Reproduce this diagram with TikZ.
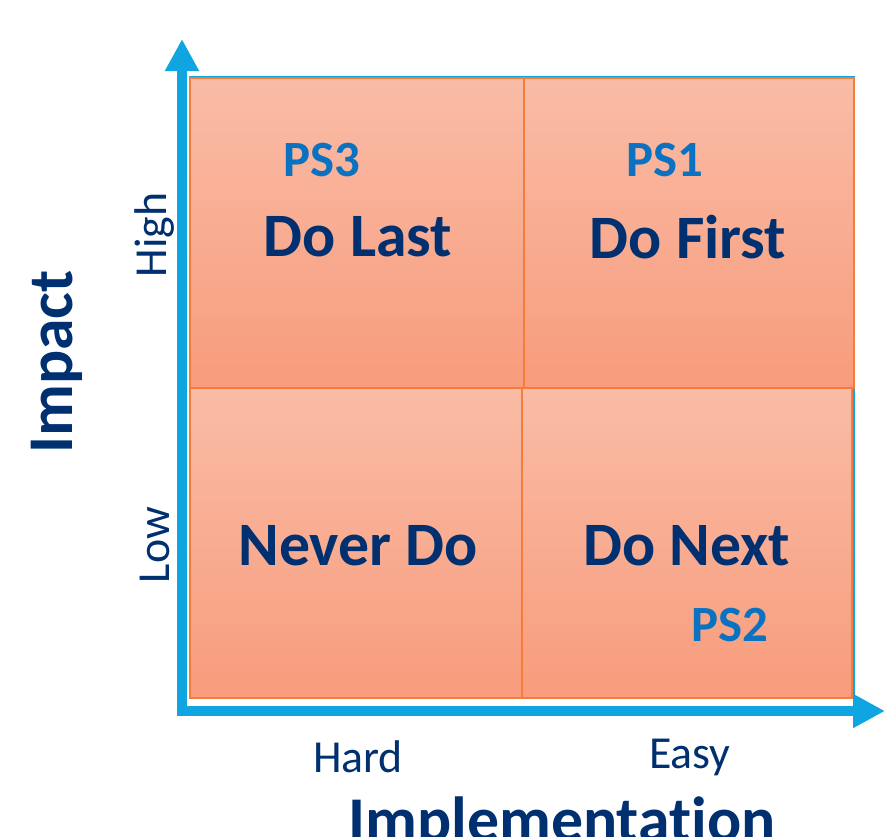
\documentclass[tikz,border=0pt]{standalone}
\usepackage{fontspec}
\setmainfont{Carlito}[Ligatures=NoCommon]
\usetikzlibrary{arrows.meta, positioning}
\definecolor{navy}{RGB}{0,48,112}
\definecolor{psblue}{RGB}{10,114,192}
\definecolor{axisblue}{RGB}{14,165,224}
\definecolor{salmontop}{RGB}{249,188,166}
\definecolor{salmonbot}{RGB}{248,156,124}
\definecolor{edgeorange}{RGB}{245,125,60}

\begin{document}
\begin{tikzpicture}[x=1bp, y=-1bp,
  quad/.style={draw=edgeorange, line width=1.5bp, top color=salmontop, bottom color=salmonbot, inner sep=0pt},
  task/.style={font=\fontsize{62}{62}\selectfont\bfseries, text=navy},
  ps/.style={font=\fontsize{51}{51}\selectfont\bfseries, text=psblue},
  tick/.style={font=\fontsize{46}{46}\selectfont, text=navy},
  axlabel/.style={font=\fontsize{64}{64}\selectfont\bfseries, text=navy},
  axis/.style={axisblue, line width=10bp, -{Triangle[length=32bp, width=32bp]}}]
  \useasboundingbox (0,0) rectangle (885,837);

  % backdrop of the grid
  \fill[axisblue] (189,76) rectangle (855,699);

  % quadrants
  \node[quad, minimum width=334bp, minimum height=310bp] (tl) at (357,233) {};
  \node[quad, minimum width=330bp, minimum height=310bp] (tr) at (689,233) {};
  \node[quad, minimum width=332bp, minimum height=310bp] (bl) at (356,543) {};
  \node[quad, minimum width=330bp, minimum height=310bp] (br) at (687,543) {};

  % axes
  \coordinate (origin_v) at (182,716);
  \coordinate (origin_h) at (177,711);
  \coordinate (ytip) at (182,39);
  \coordinate (xtip) at (885,711);
  \draw[axis] (origin_v) -- (ytip);
  \draw[axis] (origin_h) -- (xtip);

  % quadrant texts
  \node[ps] (ps3) at (322,160) {PS3};
  \node[task] (dolast) at (358,237) {Do Last};
  \node[ps] (ps1) at (665,160) {PS1};
  \node[task] (dofirst) at (688,237) {Do First};
  \node[task] (neverdo) at (358,546) {Never Do};
  \node[task] (donext) at (687,546) {Do Next};
  \node[ps] (ps2) at (730,625) {PS2};

  % axis labels
  \node[tick, rotate=90] (high) at (155,235) {High};
  \node[tick, rotate=90] (low) at (155,545) {Low};
  \node[axlabel, rotate=90] (impact) at (57,362) {Impact};
  \node[tick] (hard) at (358,757) {Hard};
  \node[tick] (easy) at (690,757) {Easy};
  \node[axlabel] (impl) at (562,824) {Implementation};
\end{tikzpicture}
\end{document}
